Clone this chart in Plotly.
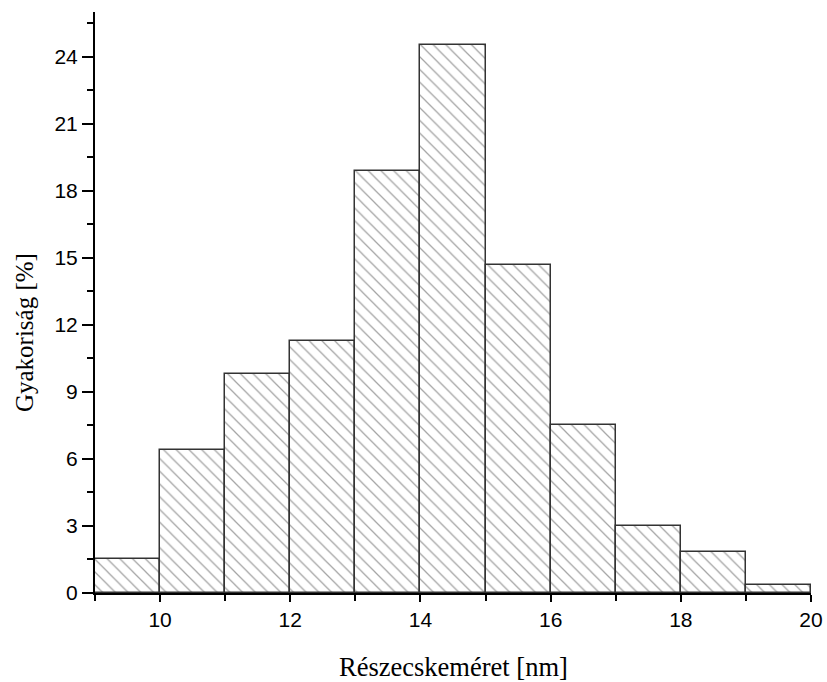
import plotly.graph_objects as go

# Particle size distribution (bin left edges, bin width 1 nm)
bin_left = [9, 10, 11, 12, 13, 14, 15, 16, 17, 18, 19]
bin_width = 1
frequency = [1.5, 6.42, 9.79, 11.26, 18.87, 24.54, 14.69, 7.54, 2.99, 1.85, 0.36]

x_ticks = [10, 12, 14, 16, 18, 20]
y_ticks = [0, 3, 6, 9, 12, 15, 18, 21, 24]

fig = go.Figure()
fig.add_trace(go.Bar(
    x=bin_left,
    y=frequency,
    width=bin_width,
    offset=0,
    marker=dict(
        color="white",
        line=dict(color="#333333", width=1.5),
        pattern=dict(shape="\\", fgcolor="#4a4a4a", bgcolor="white",
                     size=9, solidity=0.14, fillmode="overlay"),
    ),
    showlegend=False,
))

tick_font = dict(family="Liberation Sans, Arial, sans-serif", size=21, color="black")

fig.update_xaxes(
    range=[9, 20], automargin=False,
    tickmode="array", tickvals=x_ticks,
    ticks="outside", ticklen=7, tickwidth=2, tickcolor="black",
    minor=dict(dtick=1, tick0=9, ticks="outside", ticklen=6, tickwidth=1.5, tickcolor="black"),
    showline=True, linecolor="black", linewidth=2,
    showgrid=False, zeroline=False,
    tickfont=tick_font,
)
fig.update_yaxes(
    range=[0, 26], automargin=False,
    tickmode="array", tickvals=y_ticks,
    ticks="outside", ticklen=11, tickwidth=2, tickcolor="black",
    minor=dict(dtick=1.5, tick0=0, ticks="outside", ticklen=6, tickwidth=1.5, tickcolor="black"),
    showline=True, linecolor="black", linewidth=2,
    showgrid=False, zeroline=False,
    tickfont=tick_font,
)

serif = "Liberation Serif, Times New Roman, serif"
fig.add_annotation(text="Részecskeméret [nm]", xref="paper", yref="paper",
                   x=0.5, y=-0.1273, xanchor="center", yanchor="middle",
                   showarrow=False, font=dict(family=serif, size=26.5, color="black"))
fig.add_annotation(text="Gyakoriság [%]", xref="paper", yref="paper",
                   x=-0.0991, y=0.4475, xanchor="center", yanchor="middle",
                   textangle=-90, showarrow=False,
                   font=dict(family=serif, size=25, color="black"))

fig.update_layout(
    width=827, height=682,
    margin=dict(l=95, r=16, t=12, b=89),
    plot_bgcolor="white", paper_bgcolor="white",
    bargap=0,
)

fig.write_html("out.html")
